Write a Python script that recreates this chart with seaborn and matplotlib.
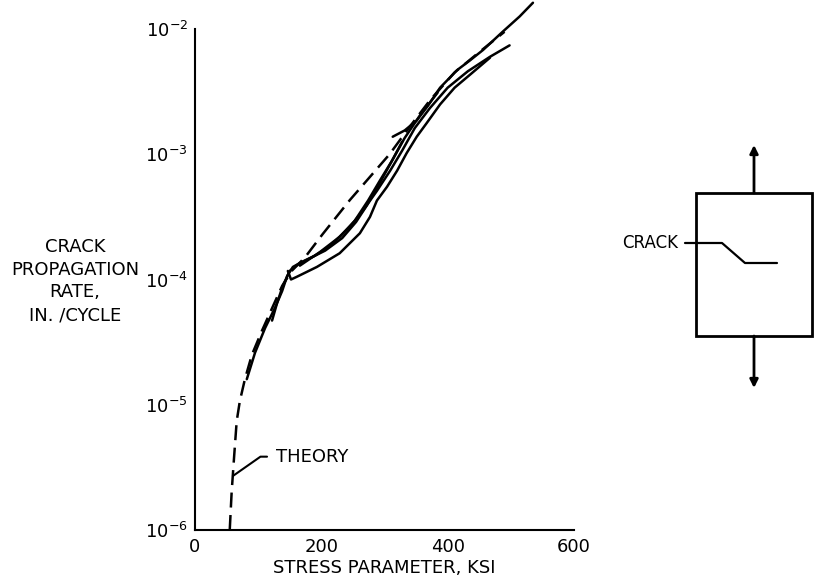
import matplotlib
matplotlib.use("Agg")
import matplotlib.pyplot as plt
import matplotlib.patches as ptc
import seaborn as sns
import pandas as pd
import numpy as np

# values (stress parameter in ksi, rate in in./cycle)
theory_x = [55, 58, 62, 66, 71, 79, 90, 106, 122, 138, 153, 174, 202, 245, 277, 308, 340, 372, 411, 451, 490]
theory_y = [1.0e-6, 2.0e-6, 3.9e-6, 7.4e-6, 1.07e-5, 1.6e-5, 2.5e-5, 3.9e-5, 5.9e-5, 8.9e-5, 1.17e-4,
            1.5e-4, 2.3e-4, 4.3e-4, 6.6e-4, 1.0e-3, 1.66e-3, 2.7e-3, 4.5e-3, 6.6e-3, 9.5e-3]

test_a_x = [82, 95, 111, 127, 138, 146, 155, 169, 190, 214, 245, 266, 288, 309, 328, 348, 372, 400, 432, 467, 498]
test_a_y = [1.6e-5, 2.6e-5, 4.1e-5, 6.0e-5, 8.1e-5, 1.07e-4, 1.26e-4, 1.38e-4, 1.55e-4, 1.86e-4, 2.63e-4,
            3.55e-4, 5.1e-4, 7.4e-4, 1.07e-3, 1.62e-3, 2.34e-3, 3.4e-3, 4.6e-3, 6.0e-3, 7.4e-3]

test_b_x = [147, 152, 161, 193, 229, 261, 277, 288, 304, 320, 335, 351, 367, 388, 411, 435, 467]
test_b_y = [1.17e-4, 1.0e-4, 1.05e-4, 1.26e-4, 1.62e-4, 2.34e-4, 3.16e-4, 4.27e-4, 5.5e-4, 7.4e-4,
            1.02e-3, 1.38e-3, 1.78e-3, 2.5e-3, 3.4e-3, 4.3e-3, 5.9e-3]

test_c_x = [122, 130, 139, 150, 163, 182, 206, 233, 255, 272, 290, 312, 332, 356, 384]
test_c_y = [4.7e-5, 6.5e-5, 8.9e-5, 1.17e-4, 1.32e-4, 1.48e-4, 1.7e-4, 2.14e-4, 2.88e-4, 3.9e-4,
            5.6e-4, 8.9e-4, 1.35e-3, 2.04e-3, 3.1e-3]

test_d_x = [166, 198, 229, 253, 274, 293, 312, 328]
test_d_y = [1.29e-4, 1.66e-4, 2.19e-4, 2.95e-4, 4.27e-4, 6.2e-4, 8.9e-4, 1.26e-3]

test_e_x = [313, 332, 351, 369, 388, 415, 435, 456, 487, 514, 535]
test_e_y = [1.38e-3, 1.55e-3, 1.86e-3, 2.45e-3, 3.4e-3, 4.7e-3, 5.6e-3, 6.8e-3, 9.5e-3, 1.26e-2, 1.62e-2]

x_ticks = [0, 100, 200, 300, 400, 500, 600]
x_tick_labels = ["0", "", "200", "", "400", "", "600"]
y_ticks = [1e-6, 1e-5, 1e-4, 1e-3, 1e-2]
y_tick_labels = ["$10^{-6}$", "$10^{-5}$", "$10^{-4}$", "$10^{-3}$", "$10^{-2}$"]

sns.set_theme(style="white")
plt.rcParams["font.family"] = ["DejaVu Sans"]
plt.rcParams["mathtext.default"] = "regular"
for k in ["text.color", "axes.labelcolor", "xtick.color", "ytick.color"]:
    plt.rcParams[k] = "black"

fig = plt.figure(figsize=(8.14, 5.84), dpi=100)
ax = fig.add_axes([195 / 814, 54 / 584, 379 / 814, 501 / 584])

sns.lineplot(x=theory_x, y=theory_y, ax=ax, sort=False, color="black", lw=1.8,
             linestyle=(0, (6, 3)), clip_on=False)
tests = [(test_a_x, test_a_y), (test_b_x, test_b_y), (test_c_x, test_c_y),
         (test_d_x, test_d_y), (test_e_x, test_e_y)]
for tx, ty in tests:
    sns.lineplot(x=tx, y=ty, ax=ax, sort=False, color="black", lw=1.8, clip_on=False)

ax.set_yscale("log")
ax.set_xlim(0, 600)
ax.set_ylim(1e-6, 1e-2)
ax.set_xticks(x_ticks)
ax.set_xticklabels(x_tick_labels)
ax.set_yticks(y_ticks)
ax.set_yticklabels(y_tick_labels)
ax.minorticks_off()
ax.tick_params(axis="x", direction="in", length=7, width=1.5, color="black", pad=6, labelsize=13)
ax.tick_params(axis="y", direction="in", length=9, width=1.5, color="black", pad=5, labelsize=13)
for s in ["top", "right"]:
    ax.spines[s].set_visible(False)
for s in ["left", "bottom"]:
    ax.spines[s].set_color("black")
    ax.spines[s].set_linewidth(1.5)
ax.set_xlabel("STRESS PARAMETER, KSI", fontsize=13, labelpad=2)
ax.set_ylabel("")

ax.annotate("THEORY", xy=(60, 2.7e-6), xytext=(128, 3.85e-6), fontsize=13, ha="left", va="center",
            arrowprops=dict(arrowstyle="-", color="black", lw=1.5, relpos=(0, 0.5), shrinkA=4, shrinkB=0,
                            connectionstyle="angle,angleA=0,angleB=35,rad=0"))

fig.text(75 / 814, 1 - 281 / 584, "CRACK\nPROPAGATION\nRATE,\nIN. /CYCLE", ha="center", va="center",
         fontsize=13, linespacing=1.35)

# specimen sketch
dax = fig.add_axes([0, 0, 1, 1], zorder=-1)
dax.set_xlim(0, 814)
dax.set_ylim(584, 0)
dax.axis("off")
dax.add_patch(ptc.Rectangle((696, 193), 116, 143, fill=False, lw=2, edgecolor="black"))
dax.annotate("", xy=(754, 145), xytext=(754, 193),
             arrowprops=dict(arrowstyle="-|>", lw=2, color="black", mutation_scale=12, shrinkA=0, shrinkB=0))
dax.annotate("", xy=(754, 388), xytext=(754, 336),
             arrowprops=dict(arrowstyle="-|>", lw=2, color="black", mutation_scale=12, shrinkA=0, shrinkB=0))
dax.plot([685, 722, 745, 777], [243, 243, 263, 263], color="black", lw=1.6)
dax.text(678, 243, "CRACK", ha="right", va="center", fontsize=12)

plt.savefig("out.png", dpi=100)
